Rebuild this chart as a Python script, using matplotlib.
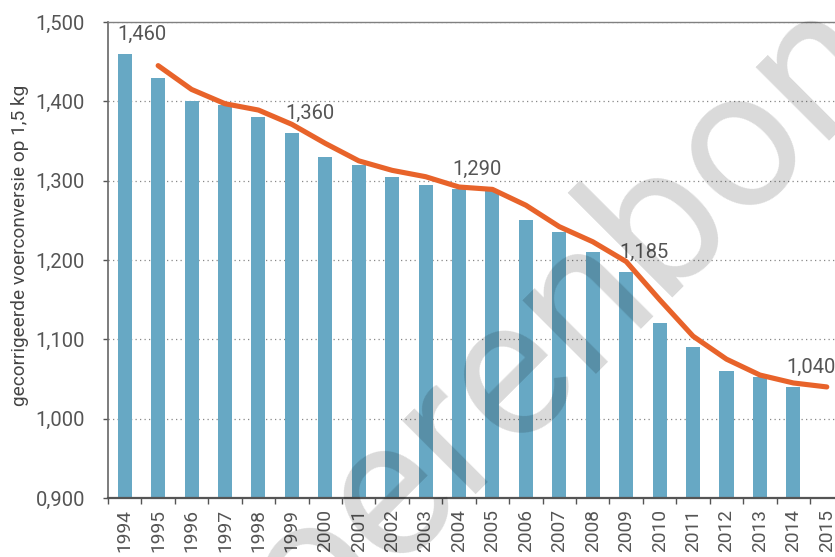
import numpy as np
import matplotlib
matplotlib.use("Agg")
import matplotlib.pyplot as plt
from matplotlib.ticker import FixedLocator, FuncFormatter

plt.rcParams['font.family'] = ['Roboto', 'DejaVu Sans']

# data
years = [str(y) for y in range(1994, 2016)]
bar_values = [1.460, 1.430, 1.400, 1.395, 1.380, 1.360, 1.330, 1.320, 1.305,
              1.295, 1.290, 1.288, 1.250, 1.235, 1.210, 1.185, 1.120, 1.090,
              1.060, 1.053, 1.040]          # 1994 - 2014
line_values = [1.445, 1.415, 1.397, 1.389, 1.371, 1.347, 1.325, 1.313, 1.305,
               1.292, 1.289, 1.269, 1.242, 1.223, 1.198, 1.150, 1.104, 1.075,
               1.055, 1.045, 1.040]         # 1995 - 2015
label_years = ['1994', '1999', '2004', '2009', '2014']
ylabel = 'gecorrigeerde voerconversie op 1,5 kg'
yticks = [0.9, 1.0, 1.1, 1.2, 1.3, 1.4, 1.5]

bar_col = '#67A8C4'
line_col = '#E8632A'
txt_col = '#555555'

W, H = 835, 557
fig = plt.figure(figsize=(W / 100, H / 100), dpi=100)
ax = fig.add_axes([108 / W, 1 - 498 / H, (843.5 - 108) / W, (498 - 22) / H])

x_bar = np.arange(len(bar_values))
x_line = np.arange(1, len(line_values) + 1)

ax.bar(x_bar, bar_values, width=0.42, color=bar_col, zorder=2)
ax.plot(x_line, line_values, color=line_col, lw=3.7, solid_capstyle='round',
        solid_joinstyle='round', zorder=3)

def fmt(v, pos=None):
    return ('%.3f' % v).replace('.', ',')

# value labels, left aligned on the bar
for yr in label_years:
    i = years.index(yr)
    ax.annotate(fmt(bar_values[i]), xy=(i - 0.21, bar_values[i]),
                xytext=(0, 14), textcoords='offset points',
                ha='left', va='center', fontsize=14.5, color=txt_col, zorder=4)

ax.set_xlim(-0.5, len(years) - 0.5)
ax.set_ylim(0.9, 1.5)

ax.yaxis.set_major_locator(FixedLocator(yticks))
ax.yaxis.set_major_formatter(FuncFormatter(fmt))
ax.set_xticks(np.arange(len(years)))
ax.set_xticklabels(years, rotation=90)
ax.xaxis.set_minor_locator(FixedLocator(np.arange(len(years) + 1) - 0.5))

ax.tick_params(axis='y', which='major', length=3.6, width=1, color=txt_col,
               labelsize=14.5, labelcolor=txt_col, pad=13)
ax.tick_params(axis='x', which='major', length=0, labelsize=13.8,
               labelcolor=txt_col, pad=8)
ax.tick_params(axis='x', which='minor', length=4, width=1, color=txt_col)

ax.grid(axis='y', color='#888888', linestyle=(0, (1, 2.6)), lw=0.9, zorder=1)
ax.set_axisbelow(True)

ax.spines['left'].set_color('#666666')
ax.spines['left'].set_linewidth(1.2)
ax.spines['bottom'].set_color('#555555')
ax.spines['bottom'].set_linewidth(1.6)
ax.spines['top'].set_color('#808080')
ax.spines['top'].set_linewidth(1.0)
ax.spines['right'].set_visible(False)

fig.text(20 / W, 1 - 245 / H, ylabel, rotation=90, ha='center', va='center',
         fontsize=13.7, color='#444444')

# watermark
fig.text(602 / W, 1 - 355 / H, 'boerenbond', rotation=45, rotation_mode='anchor',
         ha='center', va='baseline', fontsize=141, color='black', alpha=0.15,
         zorder=10)

fig.savefig('out.png', dpi=100)
